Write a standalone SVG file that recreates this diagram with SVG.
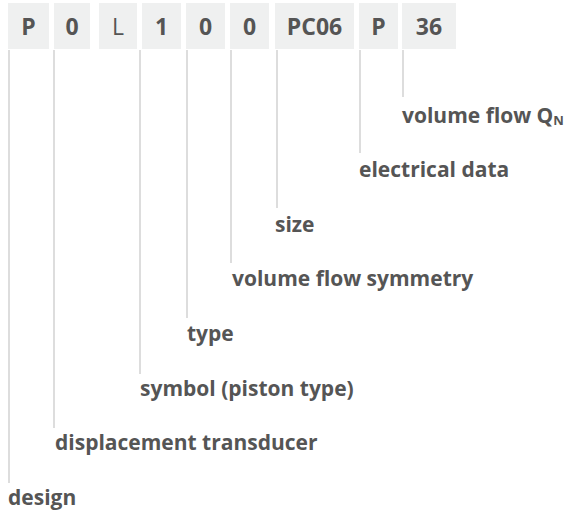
<svg xmlns="http://www.w3.org/2000/svg" width="568" height="515" viewBox="0 0 568 515">
<style>
.box{fill:#eff0f0}
.code{font-family:"Open Sans","Noto Sans",sans-serif;font-size:23px;font-weight:700;fill:#555;text-anchor:middle}
.thin{font-weight:400}
.lbl{font-family:"Open Sans","Noto Sans",sans-serif;font-size:21px;font-weight:700;fill:#555}
.conn line{stroke:#dddddd;stroke-width:2}
</style>
<rect width="568" height="515" fill="#fff"/>
<g id="codes">
<g id="c1"><rect class="box" x="8" y="3" width="41" height="46"/><text class="code" x="28.5" y="35">P</text></g>
<g id="c2"><rect class="box" x="54" y="3" width="36" height="46"/><text class="code" x="72" y="35">0</text></g>
<g id="c3"><rect class="box" x="99" y="3" width="38" height="46"/><text class="code thin" x="118" y="35">L</text></g>
<g id="c4"><rect class="box" x="142" y="3" width="39" height="46"/><text class="code" x="161.5" y="35">1</text></g>
<g id="c5"><rect class="box" x="186" y="3" width="39" height="46"/><text class="code" x="205.5" y="35">0</text></g>
<g id="c6"><rect class="box" x="230" y="3" width="39" height="46"/><text class="code" x="249.5" y="35">0</text></g>
<g id="c7"><rect class="box" x="275" y="3" width="79" height="46"/><text class="code" x="314.5" y="35">PC06</text></g>
<g id="c8"><rect class="box" x="359" y="3" width="39" height="46"/><text class="code" x="378.5" y="35">P</text></g>
<g id="c9"><rect class="box" x="402" y="3" width="54" height="46"/><text class="code" x="429" y="35">36</text></g>
</g>
<g id="connectors" class="conn">
<line x1="9" y1="50" x2="9" y2="483"/>
<line x1="54" y1="50" x2="54" y2="428"/>
<line x1="140" y1="50" x2="140" y2="374"/>
<line x1="187" y1="50" x2="187" y2="318"/>
<line x1="231" y1="50" x2="231" y2="263"/>
<line x1="277" y1="50" x2="277" y2="208"/>
<line x1="360" y1="50" x2="360" y2="153"/>
<line x1="403" y1="50" x2="403" y2="97"/>
</g>
<g id="l-vflow"><text class="lbl" x="402" y="123">volume flow Q<tspan font-size="13" dy="2">N</tspan></text></g>
<g id="l-elec"><text class="lbl" x="359" y="177">electrical data</text></g>
<g id="l-size"><text class="lbl" x="275" y="232">size</text></g>
<g id="l-vfs"><text class="lbl" x="232" y="286">volume flow symmetry</text></g>
<g id="l-type"><text class="lbl" x="187" y="341">type</text></g>
<g id="l-symbol"><text class="lbl" x="140" y="396">symbol (piston type)</text></g>
<g id="l-disp"><text class="lbl" x="55" y="450">displacement transducer</text></g>
<g id="l-design"><text class="lbl" x="8" y="505">design</text></g>
</svg>
